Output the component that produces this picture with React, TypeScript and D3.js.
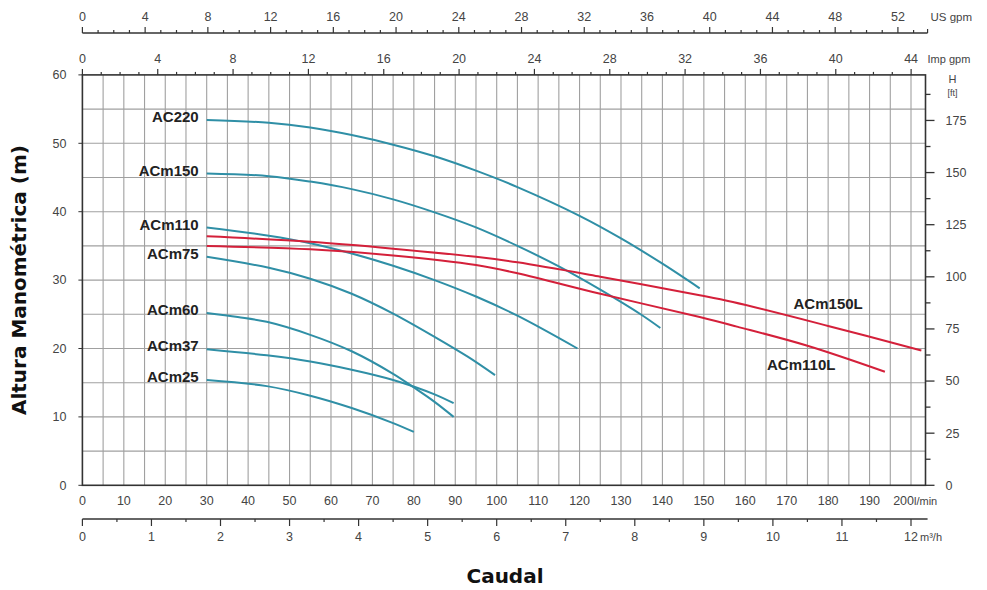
import * as d3 from "d3";

const WIDTH = 987;
const HEIGHT = 590;

// flow in l/min, head in m
const ac220Q = [30, 45, 55, 65, 75, 85, 95, 105, 120, 130, 140, 149];
const ac220H = [53.4, 53.0, 52.3, 51.2, 49.8, 48.1, 46.0, 43.6, 39.4, 36.1, 32.4, 28.8];

const acm150Q = [30, 45, 55, 65, 75, 85, 95, 105, 115, 125, 135, 139.5];
const acm150H = [45.6, 45.2, 44.4, 43.3, 41.8, 39.9, 37.7, 35.0, 32.0, 28.6, 24.9, 23.0];

const acm110Q = [30, 45, 55, 65, 75, 85, 95, 105, 119.5];
const acm110H = [37.7, 36.5, 35.4, 33.9, 32.1, 30.0, 27.6, 24.8, 20.0];

const acm75Q = [30, 45, 55, 65, 75, 85, 93, 99.6];
const acm75H = [33.4, 31.8, 30.2, 28.0, 25.1, 21.7, 18.8, 16.1];

const acm60Q = [30, 37.5, 44.5, 55, 65, 75, 80, 85, 89.6];
const acm60H = [25.2, 24.6, 23.9, 22.0, 19.6, 16.3, 14.3, 12.2, 10.0];

const acm37Q = [30, 44.5, 55, 65, 75, 85, 89.6];
const acm37H = [19.9, 19.0, 18.1, 16.9, 15.4, 13.3, 12.0];

const acm25Q = [30, 44.5, 55, 65, 75, 80];
const acm25H = [15.4, 14.5, 13.1, 11.3, 9.1, 7.8];

const acm150LQ = [30, 55, 75, 95, 105, 125, 149, 157, 180, 202.5];
const acm150LH = [36.4, 35.6, 34.6, 33.4, 32.6, 30.5, 27.8, 26.8, 23.3, 19.7];

const acm110LQ = [30, 55, 75, 95, 105, 125, 149, 158, 175, 193.7];
const acm110LH = [35.0, 34.5, 33.6, 32.2, 31.0, 28.0, 24.6, 23.2, 20.4, 16.6];

const pumpNames = ["AC220", "ACm150", "ACm110", "ACm75", "ACm60", "ACm37", "ACm25"];
const pumpQ = [ac220Q, acm150Q, acm110Q, acm75Q, acm60Q, acm37Q, acm25Q];
const pumpH = [ac220H, acm150H, acm110H, acm75H, acm60H, acm37H, acm25H];

const lowNames = ["ACm150L", "ACm110L"];
const lowQ = [acm150LQ, acm110LQ];
const lowH = [acm150LH, acm110LH];
// label anchor (flow, head) for the red curves
const lowLabelQ = [180, 173.5];
const lowLabelH = [26.5, 17.6];

const headTicks = [0, 10, 20, 30, 40, 50, 60];
const feetTicks = [0, 25, 50, 75, 100, 125, 150, 175];
const lminTicks = d3.range(0, 201, 10);
const m3hTicks = d3.range(0, 13, 1);
const usTicks = d3.range(0, 53, 4);
const impTicks = d3.range(0, 45, 4);

const TEAL = "#2f8fa6";
const RED = "#d4203a";
const AXIS = "#333";
const TXT = "#444";
const GRID = "#a0a0a0";

export default function App() {
  const x = d3.scaleLinear().domain([0, 200]).range([82.4, 911]);
  const y = d3.scaleLinear().domain([0, 60]).range([485.3, 74.9]);
  const plotLeft = x(0);
  const plotRight = x(203.5);
  const plotTop = y(60);
  const plotBottom = y(0);
  const axisEnd = x(204);

  // other units mapped onto the same pixels
  const xUs = (g: number) => x(g * 3.78541);
  const xImp = (g: number) => x(g * 4.54609);
  const xM3 = (m: number) => x((m * 1000) / 60);
  const yFt = (f: number) => y(f * 0.3048);

  const line = d3
    .line<[number, number]>()
    .x((d) => x(d[0]))
    .y((d) => y(d[1]))
    .curve(d3.curveCatmullRom.alpha(0.5));

  const font = "'Liberation Sans', Arial, sans-serif";
  const usY = 33;
  const fs = 12.5;

  return (
    <svg
      width={WIDTH}
      height={HEIGHT}
      style={{ position: "absolute", left: 0, top: 0, background: "#fff" }}
      fontFamily={font}
    >
      {/* grid */}
      {d3.range(5, 201, 5).map((q) => (
        <line key={"vg" + q} x1={x(q)} x2={x(q)} y1={plotTop} y2={plotBottom} stroke={GRID} strokeWidth={1.1} />
      ))}
      {d3.range(5, 60, 5).map((h) => (
        <line key={"hg" + h} x1={plotLeft} x2={plotRight} y1={y(h)} y2={y(h)} stroke={GRID} strokeWidth={1.1} />
      ))}

      {/* frame */}
      <rect x={plotLeft} y={plotTop} width={plotRight - plotLeft} height={plotBottom - plotTop} fill="none" stroke={AXIS} strokeWidth={1.6} />

      {/* left axis, m */}
      {headTicks.map((h) => (
        <g key={"lt" + h}>
          <line x1={plotLeft - 4} x2={plotLeft} y1={y(h)} y2={y(h)} stroke={AXIS} />
          <text x={plotLeft - 16} y={y(h)} dy="0.35em" textAnchor="end" fontSize={fs} fill={TXT}>
            {h}
          </text>
        </g>
      ))}

      {/* right axis, ft */}
      {d3.range(0, 188, 12.5).map((f, i) => (
        <line key={"rt" + f} x1={plotRight} x2={plotRight + (i % 2 === 0 ? 9 : 5)} y1={yFt(f)} y2={yFt(f)} stroke={AXIS} strokeWidth={1.3} />
      ))}
      {feetTicks.map((f) => (
        <text key={"rl" + f} x={plotRight + 20} y={yFt(f)} dy="0.35em" fontSize={fs} fill={TXT}>
          {f}
        </text>
      ))}
      <text x={plotRight + 27} y={plotTop + 8} textAnchor="middle" fontSize={11} fill={TXT}>H</text>
      <text x={plotRight + 27} y={plotTop + 21} textAnchor="middle" fontSize={9} fill={TXT}>[ft]</text>

      {/* top axis, Imp gpm (on frame) */}
      {d3.range(0, 45, 1).map((g) => (
        <line key={"it" + g} x1={xImp(g)} x2={xImp(g)} y1={plotTop} y2={plotTop - (g % 4 === 0 ? 6 : 3)} stroke={AXIS} strokeWidth={1.2} />
      ))}
      {impTicks.map((g) => (
        <text key={"il" + g} x={xImp(g)} y={plotTop - 12} textAnchor="middle" fontSize={fs} fill={TXT}>
          {g}
        </text>
      ))}
      <text x={plotRight + 2} y={plotTop - 12} fontSize={11} fill={TXT}>Imp gpm</text>

      {/* top axis, US gpm */}
      <line x1={plotLeft} x2={axisEnd} y1={usY} y2={usY} stroke={AXIS} strokeWidth={1.6} />
      <line x1={axisEnd} x2={axisEnd} y1={usY} y2={usY - 4} stroke={AXIS} strokeWidth={1.2} />
      {d3.range(0, 54, 1).map((g) => (
        <line key={"ut" + g} x1={xUs(g)} x2={xUs(g)} y1={usY} y2={usY - (g % 4 === 0 ? 6 : 3)} stroke={AXIS} strokeWidth={1.2} />
      ))}
      {usTicks.map((g) => (
        <text key={"ul" + g} x={xUs(g)} y={usY - 12} textAnchor="middle" fontSize={fs} fill={TXT}>
          {g}
        </text>
      ))}
      <text x={plotRight + 5} y={usY - 12} fontSize={11.5} fill={TXT}>US gpm</text>

      {/* bottom, l/min labels */}
      {lminTicks.map((q) => (
        <text
          key={"bl" + q}
          x={q === 200 ? x(q) + 3 : x(q)}
          y={plotBottom + 20}
          textAnchor={q === 200 ? "end" : "middle"}
          fontSize={fs}
          fill={TXT}
        >
          {q}
        </text>
      ))}
      <text x={x(200) + 3} y={plotBottom + 20} fontSize={11} fill={TXT}>l/min</text>

      {/* bottom, m3/h axis */}
      <line x1={plotLeft} x2={axisEnd} y1={519} y2={519} stroke={AXIS} strokeWidth={1.6} />
      {d3.range(0, 12.5, 0.5).map((m) => (
        <line key={"mt" + m} x1={xM3(m)} x2={xM3(m)} y1={519} y2={519 + (m % 1 === 0 ? 7 : 3)} stroke={AXIS} strokeWidth={1.2} />
      ))}
      {m3hTicks.map((m) => (
        <text key={"ml" + m} x={xM3(m)} y={541} textAnchor="middle" fontSize={fs} fill={TXT}>
          {m}
        </text>
      ))}
      <text x={xM3(12) + 9} y={541} fontSize={11} fill={TXT}>m³/h</text>

      {/* pump curves */}
      {pumpNames.map((name, i) => {
        const pts = pumpQ[i].map((q, j) => [q, pumpH[i][j]] as [number, number]);
        return (
          <g key={name}>
            <path d={line(pts) || ""} fill="none" stroke={TEAL} strokeWidth={2} />
            <text
              x={x(pumpQ[i][0]) - 8}
              y={y(pumpH[i][0]) - 3}
              dy="0.35em"
              textAnchor="end"
              fontSize={15}
              fontWeight="bold"
              fill="#222"
            >
              {name}
            </text>
          </g>
        );
      })}
      {lowNames.map((name, i) => {
        const pts = lowQ[i].map((q, j) => [q, lowH[i][j]] as [number, number]);
        return (
          <g key={name}>
            <path d={line(pts) || ""} fill="none" stroke={RED} strokeWidth={2} />
            <text
              x={x(lowLabelQ[i])}
              y={y(lowLabelH[i])}
              dy="0.35em"
              textAnchor="middle"
              fontSize={15}
              fontWeight="bold"
              fill="#222"
            >
              {name}
            </text>
          </g>
        );
      })}

      {/* titles */}
      <text
        transform={`translate(26, ${(plotTop + plotBottom) / 2}) rotate(-90)`}
        textAnchor="middle"
        fontFamily="'DejaVu Sans', sans-serif"
        fontWeight="bold"
        fontSize={20}
        fill="#111"
      >
        Altura Manométrica (m)
      </text>
      <text
        x={505}
        y={583}
        textAnchor="middle"
        fontFamily="'DejaVu Sans', sans-serif"
        fontWeight="bold"
        fontSize={20}
        fill="#111"
      >
        Caudal
      </text>
    </svg>
  );
}
